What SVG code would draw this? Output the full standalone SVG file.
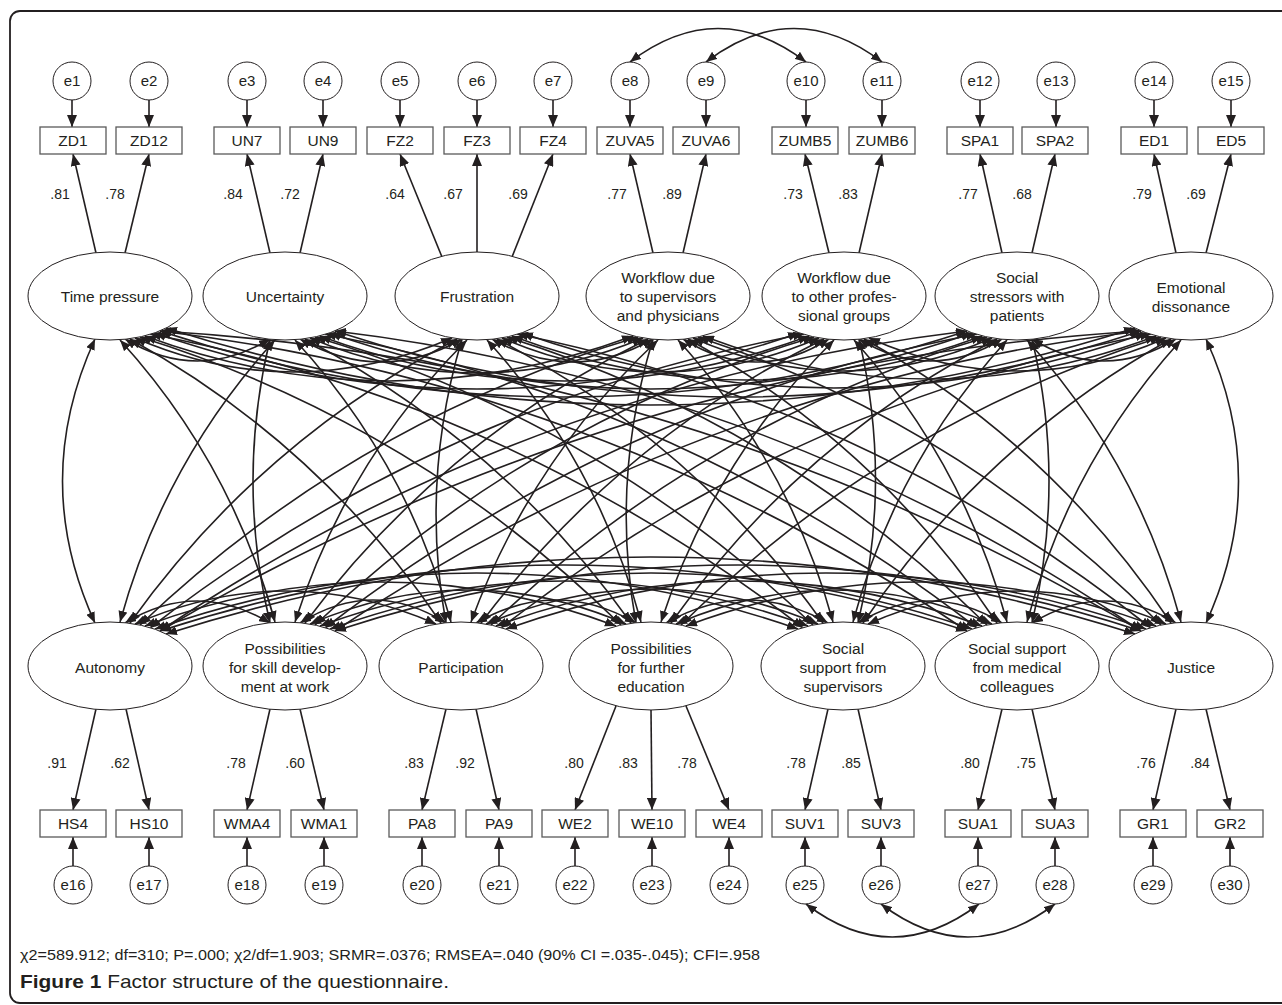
<svg xmlns="http://www.w3.org/2000/svg" width="1282" height="1005" viewBox="0 0 1282 1005">
<defs>
<marker id="ha" viewBox="0 0 12 10" refX="12" refY="5" markerWidth="12" markerHeight="10" markerUnits="userSpaceOnUse" orient="auto"><path d="M0,0 L12,5 L0,10 z" fill="#231f20"/></marker>
<marker id="hc" viewBox="0 0 11 9" refX="11" refY="4.5" markerWidth="11" markerHeight="9" markerUnits="userSpaceOnUse" orient="auto-start-reverse"><path d="M0,0 L11,4.5 L0,9 z" fill="#231f20"/></marker>
<style>
.ln{fill:none;stroke:#231f20;stroke-width:1.6}
.cov{marker-start:url(#hc);marker-end:url(#hc)}
.ld{marker-end:url(#ha)}
.box{fill:#fff;stroke:#5a5a5a;stroke-width:1.3}
.cir{fill:#fff;stroke:#231f20;stroke-width:1}
.ell{fill:#fff;stroke:#231f20;stroke-width:1}
text{font-family:"Liberation Sans",Arial,Helvetica,sans-serif;fill:#231f20}
.lb{font-size:15.5px;text-anchor:middle}
.ev{font-size:15px;text-anchor:middle}
.fl{font-size:15.5px;text-anchor:middle}
.co{font-size:14px;text-anchor:middle}
</style>
</defs>
<rect x="10" y="11" width="1300" height="992" rx="10" fill="none" stroke="#231f20" stroke-width="1.8"/>

<g id="connectors">
<g class="ln cov">
<path d="M125,339 Q197.5,383 270,339"/>
<path d="M135,338 Q293.5,406 452,338"/>
<path d="M145,336 Q389,426 633,336"/>
<path d="M155,333 Q477,445 799,333"/>
<path d="M160,331 Q563.5,463 967,331"/>
<path d="M166,328 Q650.5,482 1135,328"/>
<path d="M300,339 Q381,385 462,339"/>
<path d="M310,338 Q476.5,408 643,338"/>
<path d="M320,336 Q564.5,426 809,336"/>
<path d="M330,333 Q651,445 972,333"/>
<path d="M335,331 Q738,463 1141,331"/>
<path d="M492,339 Q572.5,385 653,339"/>
<path d="M502,338 Q660.5,406 819,338"/>
<path d="M512,336 Q747,424 982,336"/>
<path d="M522,333 Q834,443 1146,333"/>
<path d="M683,339 Q756,385 829,339"/>
<path d="M693,338 Q842.5,404 992,338"/>
<path d="M703,336 Q929.5,422 1156,336"/>
<path d="M859,339 Q930.5,383 1002,339"/>
<path d="M869,338 Q1017.5,404 1166,338"/>
<path d="M1032,339 Q1104,383 1176,339"/>
<path d="M125,623 Q197.5,579 270,623"/>
<path d="M135,624 Q285.5,558 436,624"/>
<path d="M145,626 Q380.5,538 616,626"/>
<path d="M155,629 Q476.5,517 798,629"/>
<path d="M160,631 Q563.5,499 967,631"/>
<path d="M166,634 Q650.5,480 1135,634"/>
<path d="M300,623 Q373,577 446,623"/>
<path d="M310,624 Q468,556 626,624"/>
<path d="M320,626 Q564,536 808,626"/>
<path d="M330,629 Q651,517 972,629"/>
<path d="M335,631 Q738,499 1141,631"/>
<path d="M476,623 Q556,577 636,623"/>
<path d="M486,624 Q652,554 818,624"/>
<path d="M496,626 Q739,536 982,626"/>
<path d="M506,629 Q826,517 1146,629"/>
<path d="M666,623 Q747,577 828,623"/>
<path d="M676,624 Q834,556 992,624"/>
<path d="M686,626 Q921,538 1156,626"/>
<path d="M858,623 Q930,579 1002,623"/>
<path d="M868,624 Q1017,558 1166,624"/>
<path d="M1032,623 Q1104,579 1176,623"/>
<path d="M95,339 Q30,481 95,623"/>
<path d="M120,340 Q231,462 275,622"/>
<path d="M130,339 Q320,444 441,623"/>
<path d="M140,337 Q415,423 621,625"/>
<path d="M150,334 Q512,403 803,628"/>
<path d="M160,331 Q600,384 967,631"/>
<path d="M160,331 Q687,363 1141,631"/>
<path d="M275,340 Q164,462 120,622"/>
<path d="M270,339 Q236,481 270,623"/>
<path d="M295,340 Q407,462 451,622"/>
<path d="M305,339 Q502,442 631,623"/>
<path d="M315,337 Q599,421 813,625"/>
<path d="M325,334 Q686,403 977,628"/>
<path d="M335,331 Q774,384 1141,631"/>
<path d="M457,339 Q259.5,442 130,623"/>
<path d="M467,340 Q347,460 295,622"/>
<path d="M462,339 Q420,481 446,623"/>
<path d="M487,340 Q598,462 641,622"/>
<path d="M497,339 Q694,442 823,623"/>
<path d="M507,337 Q782,423 987,625"/>
<path d="M517,334 Q869,405 1151,628"/>
<path d="M638,337 Q354,421 140,625"/>
<path d="M648,339 Q442,440 305,623"/>
<path d="M658,340 Q531,459 471,622"/>
<path d="M653,339 Q610,481 636,623"/>
<path d="M678,340 Q789,462 833,622"/>
<path d="M688,339 Q877,444 997,623"/>
<path d="M698,337 Q964,425 1161,625"/>
<path d="M804,334 Q442,402 150,628"/>
<path d="M814,337 Q530,421 315,625"/>
<path d="M824,339 Q618.5,440 481,623"/>
<path d="M834,340 Q714,460 661,622"/>
<path d="M859,339 Q892.5,481 858,623"/>
<path d="M854,340 Q964,463 1007,622"/>
<path d="M864,339 Q1051.5,444 1171,623"/>
<path d="M967,331 Q527.5,384 160,631"/>
<path d="M977,334 Q616,403 325,628"/>
<path d="M987,337 Q704,421.5 491,625"/>
<path d="M997,339 Q800,442 671,623"/>
<path d="M1007,340 Q896,462.5 853,622"/>
<path d="M1032,339 Q1066,481 1032,623"/>
<path d="M1027,340 Q1138,462.5 1181,622"/>
<path d="M1141,331 Q614.5,363 160,631"/>
<path d="M1141,331 Q702,384 335,631"/>
<path d="M1151,334 Q791,403 501,628"/>
<path d="M1161,337 Q886,423 681,625"/>
<path d="M1171,339 Q983,444 863,623"/>
<path d="M1181,340 Q1070,462.5 1027,622"/>
<path d="M1206,339 Q1271,481 1206,623"/>
<path d="M630,62 Q718,-5 806,62"/>
<path d="M706,62 Q794,-5 882,62"/>
<path d="M806,904 Q892,970 979,904"/>
<path d="M881,904 Q968,970 1055,904"/>
</g>
<g class="ln ld">
<path d="M96,253 L73,154"/><path d="M125,253 L149,154"/>
<path d="M270,253 L247,154"/><path d="M300,253 L323,154"/>
<path d="M442,257 L400,154"/><path d="M477,252 L477,154"/><path d="M512,257 L553,154"/>
<path d="M653,253 L630,154"/><path d="M683,253 L706,154"/>
<path d="M829,253 L805,154"/><path d="M859,253 L882,154"/>
<path d="M1002,253 L980,154"/><path d="M1032,253 L1055,154"/>
<path d="M1176,253 L1154,154"/><path d="M1206,253 L1231,154"/>
<path d="M96,709 L73,810"/><path d="M126,709 L149,810"/>
<path d="M270,709 L247,810"/><path d="M300,709 L324,810"/>
<path d="M446,709 L422,810"/><path d="M476,709 L499,810"/>
<path d="M616,706 L575,810"/><path d="M651,710 L652,810"/><path d="M686,706 L729,810"/>
<path d="M828,709 L805,810"/><path d="M858,709 L881,810"/>
<path d="M1002,709 L978,810"/><path d="M1032,709 L1055,810"/>
<path d="M1176,709 L1153,810"/><path d="M1206,709 L1230,810"/>
<path d="M72,100 V127"/><path d="M149,100 V127"/><path d="M247,100 V127"/><path d="M323,100 V127"/><path d="M400,100 V127"/>
<path d="M477,100 V127"/><path d="M553,100 V127"/><path d="M630,100 V127"/><path d="M706,100 V127"/><path d="M806,100 V127"/>
<path d="M882,100 V127"/><path d="M980,100 V127"/><path d="M1056,100 V127"/><path d="M1154,100 V127"/><path d="M1231,100 V127"/>
<path d="M73,866 V837"/><path d="M149,866 V837"/><path d="M247,866 V837"/><path d="M324,866 V837"/><path d="M422,866 V837"/>
<path d="M499,866 V837"/><path d="M575,866 V837"/><path d="M652,866 V837"/><path d="M729,866 V837"/><path d="M805,866 V837"/>
<path d="M881,866 V837"/><path d="M978,866 V837"/><path d="M1055,866 V837"/><path d="M1153,866 V837"/><path d="M1230,866 V837"/>
</g>
<g class="co">
<text x="60" y="199">.81</text><text x="115" y="199">.78</text>
<text x="233" y="199">.84</text><text x="290" y="199">.72</text>
<text x="395" y="199">.64</text><text x="453" y="199">.67</text><text x="518" y="199">.69</text>
<text x="617" y="199">.77</text><text x="672" y="199">.89</text>
<text x="793" y="199">.73</text><text x="848" y="199">.83</text>
<text x="968" y="199">.77</text><text x="1022" y="199">.68</text>
<text x="1142" y="199">.79</text><text x="1196" y="199">.69</text>
<text x="57" y="768">.91</text><text x="120" y="768">.62</text>
<text x="236" y="768">.78</text><text x="295" y="768">.60</text>
<text x="414" y="768">.83</text><text x="465" y="768">.92</text>
<text x="574" y="768">.80</text><text x="628" y="768">.83</text><text x="687" y="768">.78</text>
<text x="796" y="768">.78</text><text x="851" y="768">.85</text>
<text x="970" y="768">.80</text><text x="1026" y="768">.75</text>
<text x="1146" y="768">.76</text><text x="1200" y="768">.84</text>
</g>
</g>

<g id="errors-top">
<g id="e1"><circle class="cir" cx="72" cy="81" r="19"/><text class="ev" x="72" y="86">e1</text></g>
<g id="e2"><circle class="cir" cx="149" cy="81" r="19"/><text class="ev" x="149" y="86">e2</text></g>
<g id="e3"><circle class="cir" cx="247" cy="81" r="19"/><text class="ev" x="247" y="86">e3</text></g>
<g id="e4"><circle class="cir" cx="323" cy="81" r="19"/><text class="ev" x="323" y="86">e4</text></g>
<g id="e5"><circle class="cir" cx="400" cy="81" r="19"/><text class="ev" x="400" y="86">e5</text></g>
<g id="e6"><circle class="cir" cx="477" cy="81" r="19"/><text class="ev" x="477" y="86">e6</text></g>
<g id="e7"><circle class="cir" cx="553" cy="81" r="19"/><text class="ev" x="553" y="86">e7</text></g>
<g id="e8"><circle class="cir" cx="630" cy="81" r="19"/><text class="ev" x="630" y="86">e8</text></g>
<g id="e9"><circle class="cir" cx="706" cy="81" r="19"/><text class="ev" x="706" y="86">e9</text></g>
<g id="e10"><circle class="cir" cx="806" cy="81" r="19"/><text class="ev" x="806" y="86">e10</text></g>
<g id="e11"><circle class="cir" cx="882" cy="81" r="19"/><text class="ev" x="882" y="86">e11</text></g>
<g id="e12"><circle class="cir" cx="980" cy="81" r="19"/><text class="ev" x="980" y="86">e12</text></g>
<g id="e13"><circle class="cir" cx="1056" cy="81" r="19"/><text class="ev" x="1056" y="86">e13</text></g>
<g id="e14"><circle class="cir" cx="1154" cy="81" r="19"/><text class="ev" x="1154" y="86">e14</text></g>
<g id="e15"><circle class="cir" cx="1231" cy="81" r="19"/><text class="ev" x="1231" y="86">e15</text></g>
</g>

<g id="items-top">
<g id="ZD1"><rect class="box" x="40" y="127" width="66" height="27"/><text class="lb" x="73" y="146">ZD1</text></g>
<g id="ZD12"><rect class="box" x="116" y="127" width="66" height="27"/><text class="lb" x="149" y="146">ZD12</text></g>
<g id="UN7"><rect class="box" x="214" y="127" width="66" height="27"/><text class="lb" x="247" y="146">UN7</text></g>
<g id="UN9"><rect class="box" x="290" y="127" width="66" height="27"/><text class="lb" x="323" y="146">UN9</text></g>
<g id="FZ2"><rect class="box" x="367" y="127" width="66" height="27"/><text class="lb" x="400" y="146">FZ2</text></g>
<g id="FZ3"><rect class="box" x="444" y="127" width="66" height="27"/><text class="lb" x="477" y="146">FZ3</text></g>
<g id="FZ4"><rect class="box" x="520" y="127" width="66" height="27"/><text class="lb" x="553" y="146">FZ4</text></g>
<g id="ZUVA5"><rect class="box" x="597" y="127" width="66" height="27"/><text class="lb" x="630" y="146">ZUVA5</text></g>
<g id="ZUVA6"><rect class="box" x="673" y="127" width="66" height="27"/><text class="lb" x="706" y="146">ZUVA6</text></g>
<g id="ZUMB5"><rect class="box" x="772" y="127" width="66" height="27"/><text class="lb" x="805" y="146">ZUMB5</text></g>
<g id="ZUMB6"><rect class="box" x="849" y="127" width="66" height="27"/><text class="lb" x="882" y="146">ZUMB6</text></g>
<g id="SPA1"><rect class="box" x="947" y="127" width="66" height="27"/><text class="lb" x="980" y="146">SPA1</text></g>
<g id="SPA2"><rect class="box" x="1022" y="127" width="66" height="27"/><text class="lb" x="1055" y="146">SPA2</text></g>
<g id="ED1"><rect class="box" x="1121" y="127" width="66" height="27"/><text class="lb" x="1154" y="146">ED1</text></g>
<g id="ED5"><rect class="box" x="1198" y="127" width="66" height="27"/><text class="lb" x="1231" y="146">ED5</text></g>
</g>

<g id="factors-top">
<g id="f-time-pressure"><ellipse class="ell" cx="110" cy="296" rx="82" ry="44"/><text class="fl" x="110" y="302">Time pressure</text></g>
<g id="f-uncertainty"><ellipse class="ell" cx="285" cy="296" rx="82" ry="44"/><text class="fl" x="285" y="302">Uncertainty</text></g>
<g id="f-frustration"><ellipse class="ell" cx="477" cy="296" rx="82" ry="44"/><text class="fl" x="477" y="302">Frustration</text></g>
<g id="f-workflow-sup"><ellipse class="ell" cx="668" cy="296" rx="82" ry="44"/><text class="fl" x="668" y="283">Workflow due<tspan x="668" y="302">to supervisors</tspan><tspan x="668" y="321">and physicians</tspan></text></g>
<g id="f-workflow-other"><ellipse class="ell" cx="844" cy="296" rx="82" ry="44"/><text class="fl" x="844" y="283">Workflow due<tspan x="844" y="302">to other profes-</tspan><tspan x="844" y="321">sional groups</tspan></text></g>
<g id="f-social-stressors"><ellipse class="ell" cx="1017" cy="296" rx="82" ry="44"/><text class="fl" x="1017" y="283">Social<tspan x="1017" y="302">stressors with</tspan><tspan x="1017" y="321">patients</tspan></text></g>
<g id="f-emotional"><ellipse class="ell" cx="1191" cy="296" rx="82" ry="44"/><text class="fl" x="1191" y="293">Emotional<tspan x="1191" y="312">dissonance</tspan></text></g>
</g>

<g id="factors-bottom">
<g id="f-autonomy"><ellipse class="ell" cx="110" cy="666" rx="82" ry="44"/><text class="fl" x="110" y="673">Autonomy</text></g>
<g id="f-skill"><ellipse class="ell" cx="285" cy="666" rx="82" ry="44"/><text class="fl" x="285" y="654">Possibilities<tspan x="285" y="673">for skill develop-</tspan><tspan x="285" y="692">ment at work</tspan></text></g>
<g id="f-participation"><ellipse class="ell" cx="461" cy="666" rx="82" ry="44"/><text class="fl" x="461" y="673">Participation</text></g>
<g id="f-education"><ellipse class="ell" cx="651" cy="666" rx="82" ry="44"/><text class="fl" x="651" y="654">Possibilities<tspan x="651" y="673">for further</tspan><tspan x="651" y="692">education</tspan></text></g>
<g id="f-support-sup"><ellipse class="ell" cx="843" cy="666" rx="82" ry="44"/><text class="fl" x="843" y="654">Social<tspan x="843" y="673">support from</tspan><tspan x="843" y="692">supervisors</tspan></text></g>
<g id="f-support-col"><ellipse class="ell" cx="1017" cy="666" rx="82" ry="44"/><text class="fl" x="1017" y="654">Social support<tspan x="1017" y="673">from medical</tspan><tspan x="1017" y="692">colleagues</tspan></text></g>
<g id="f-justice"><ellipse class="ell" cx="1191" cy="666" rx="82" ry="44"/><text class="fl" x="1191" y="673">Justice</text></g>
</g>

<g id="items-bottom">
<g id="HS4"><rect class="box" x="40" y="810" width="66" height="27"/><text class="lb" x="73" y="829">HS4</text></g>
<g id="HS10"><rect class="box" x="116" y="810" width="66" height="27"/><text class="lb" x="149" y="829">HS10</text></g>
<g id="WMA4"><rect class="box" x="214" y="810" width="66" height="27"/><text class="lb" x="247" y="829">WMA4</text></g>
<g id="WMA1"><rect class="box" x="291" y="810" width="66" height="27"/><text class="lb" x="324" y="829">WMA1</text></g>
<g id="PA8"><rect class="box" x="389" y="810" width="66" height="27"/><text class="lb" x="422" y="829">PA8</text></g>
<g id="PA9"><rect class="box" x="466" y="810" width="66" height="27"/><text class="lb" x="499" y="829">PA9</text></g>
<g id="WE2"><rect class="box" x="542" y="810" width="66" height="27"/><text class="lb" x="575" y="829">WE2</text></g>
<g id="WE10"><rect class="box" x="619" y="810" width="66" height="27"/><text class="lb" x="652" y="829">WE10</text></g>
<g id="WE4"><rect class="box" x="696" y="810" width="66" height="27"/><text class="lb" x="729" y="829">WE4</text></g>
<g id="SUV1"><rect class="box" x="772" y="810" width="66" height="27"/><text class="lb" x="805" y="829">SUV1</text></g>
<g id="SUV3"><rect class="box" x="848" y="810" width="66" height="27"/><text class="lb" x="881" y="829">SUV3</text></g>
<g id="SUA1"><rect class="box" x="945" y="810" width="66" height="27"/><text class="lb" x="978" y="829">SUA1</text></g>
<g id="SUA3"><rect class="box" x="1022" y="810" width="66" height="27"/><text class="lb" x="1055" y="829">SUA3</text></g>
<g id="GR1"><rect class="box" x="1120" y="810" width="66" height="27"/><text class="lb" x="1153" y="829">GR1</text></g>
<g id="GR2"><rect class="box" x="1197" y="810" width="66" height="27"/><text class="lb" x="1230" y="829">GR2</text></g>
</g>

<g id="errors-bottom">
<g id="e16"><circle class="cir" cx="73" cy="885" r="19"/><text class="ev" x="73" y="890">e16</text></g>
<g id="e17"><circle class="cir" cx="149" cy="885" r="19"/><text class="ev" x="149" y="890">e17</text></g>
<g id="e18"><circle class="cir" cx="247" cy="885" r="19"/><text class="ev" x="247" y="890">e18</text></g>
<g id="e19"><circle class="cir" cx="324" cy="885" r="19"/><text class="ev" x="324" y="890">e19</text></g>
<g id="e20"><circle class="cir" cx="422" cy="885" r="19"/><text class="ev" x="422" y="890">e20</text></g>
<g id="e21"><circle class="cir" cx="499" cy="885" r="19"/><text class="ev" x="499" y="890">e21</text></g>
<g id="e22"><circle class="cir" cx="575" cy="885" r="19"/><text class="ev" x="575" y="890">e22</text></g>
<g id="e23"><circle class="cir" cx="652" cy="885" r="19"/><text class="ev" x="652" y="890">e23</text></g>
<g id="e24"><circle class="cir" cx="729" cy="885" r="19"/><text class="ev" x="729" y="890">e24</text></g>
<g id="e25"><circle class="cir" cx="805" cy="885" r="19"/><text class="ev" x="805" y="890">e25</text></g>
<g id="e26"><circle class="cir" cx="881" cy="885" r="19"/><text class="ev" x="881" y="890">e26</text></g>
<g id="e27"><circle class="cir" cx="978" cy="885" r="19"/><text class="ev" x="978" y="890">e27</text></g>
<g id="e28"><circle class="cir" cx="1055" cy="885" r="19"/><text class="ev" x="1055" y="890">e28</text></g>
<g id="e29"><circle class="cir" cx="1153" cy="885" r="19"/><text class="ev" x="1153" y="890">e29</text></g>
<g id="e30"><circle class="cir" cx="1230" cy="885" r="19"/><text class="ev" x="1230" y="890">e30</text></g>
</g>

<g id="caption">
<text x="20" y="960" font-size="15" textLength="740" lengthAdjust="spacingAndGlyphs">χ2=589.912; df=310; P=.000; χ2/df=1.903; SRMR=.0376; RMSEA=.040 (90% CI =.035-.045); CFI=.958</text>
<text x="20" y="988" font-size="19" textLength="429" lengthAdjust="spacingAndGlyphs"><tspan font-weight="bold">Figure 1</tspan> Factor structure of the questionnaire.</text>
</g>
</svg>
